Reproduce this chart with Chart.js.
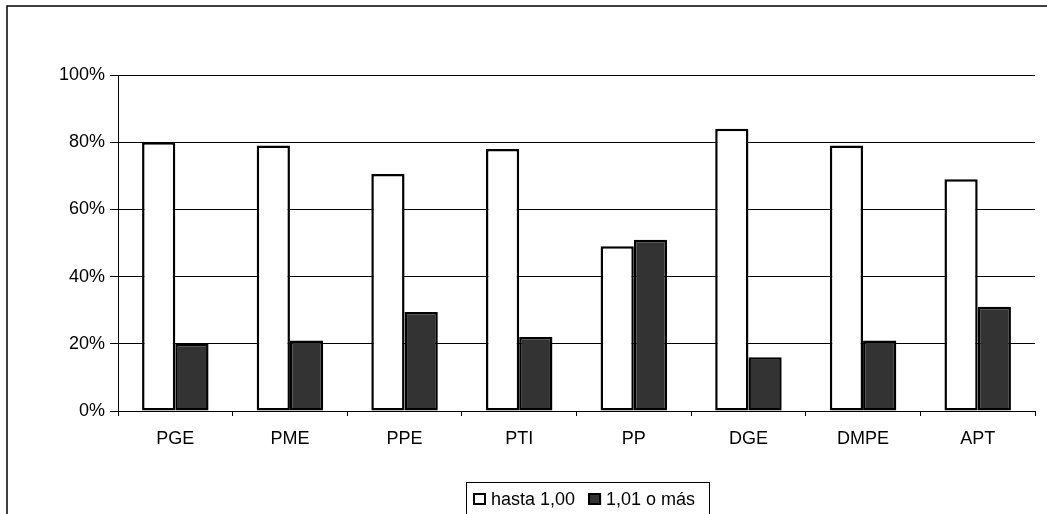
<!DOCTYPE html>
<html>
<head>
<meta charset="utf-8">
<script src="https://cdn.jsdelivr.net/npm/chart.js@4/dist/chart.umd.min.js"></script>
<style>
  html, body { margin: 0; padding: 0; background: #fff; }
  #wrap { position: relative; width: 1047px; height: 514px; }
</style>
</head>
<body>
<div id="wrap"><canvas id="barChart"></canvas></div>
<script>
const categories = ['PGE', 'PME', 'PPE', 'PTI', 'PP', 'DGE', 'DMPE', 'APT'];
const seriesNames = ['hasta 1,00', '1,01 o más'];
const upToOne = [80, 79, 70.5, 78, 49, 84, 79, 69];
const overOne = [20, 21, 29.5, 22, 51, 16, 21, 31];
const yTicks = [0, 20, 40, 60, 80, 100];

const FONT = 'Liberation Sans, Arial, sans-serif';

// outer frame + boxed legend, drawn the way the spreadsheet does it
const framePlugin = {
    id: 'framePlugin',
    beforeDraw(chart) {
        const ctx = chart.ctx;
        ctx.save();
        ctx.strokeStyle = '#000';
        ctx.lineWidth = 1.5;
        ctx.strokeRect(7, 6, 1200, 600);
        ctx.restore();
    },
    afterDraw(chart) {
        const ctx = chart.ctx;
        ctx.save();
        ctx.strokeStyle = '#000';
        ctx.lineWidth = 1;
        ctx.strokeRect(466.5, 482.5, 243, 60);
        ctx.font = '18px ' + FONT;
        ctx.textBaseline = 'alphabetic';
        let x = 473;
        chart.data.datasets.forEach(ds => {
            ctx.fillStyle = ds.backgroundColor;
            ctx.fillRect(x, 493, 13, 12);
            ctx.lineWidth = 2;
            ctx.strokeStyle = '#000';
            ctx.strokeRect(x + 1, 494, 11, 10);
            x += 18;
            ctx.fillStyle = '#000';
            ctx.fillText(ds.label, x, 505);
            x += ctx.measureText(ds.label).width + 13;
        });
        ctx.restore();
    }
};

const ctx = document.getElementById('barChart').getContext('2d');

new Chart(ctx, {
    type: 'bar',
    data: {
        labels: categories,
        datasets: [{
            label: seriesNames[0],
            data: upToOne,
            backgroundColor: '#ffffff',
            borderColor: '#000000',
            borderWidth: 2.5,
            borderSkipped: false,
            inflateAmount: 0
        }, {
            label: seriesNames[1],
            data: overOne,
            backgroundColor: '#333333',
            borderColor: '#000000',
            borderWidth: 2.5,
            borderSkipped: false,
            inflateAmount: 0
        }]
    },
    options: {
        responsive: true,
        maintainAspectRatio: false,
        animation: false,
        datasets: { bar: { categoryPercentage: 0.58, barPercentage: 1.0 } },
        layout: { padding: { top: 75, right: 12, left: 0, bottom: 63 } },
        plugins: {
            legend: { display: false },
            tooltip: { enabled: false }
        },
        scales: {
            x: {
                afterFit: scale => { scale.height = 40; },
                border: { color: '#000', width: 1 },
                grid: {
                    offset: true,
                    color: c => c.index === categories.length ? '#808080' : 'rgba(0,0,0,0)',
                    tickColor: '#000',
                    tickLength: 5
                },
                ticks: {
                    padding: 12,
                    color: '#000',
                    font: { family: FONT, size: 18 }
                }
            },
            y: {
                min: 0,
                max: 100,
                afterFit: scale => { scale.width = 118; },
                afterBuildTicks: scale => { scale.ticks = yTicks.map(v => ({ value: v })); },
                border: { color: '#000', width: 1 },
                grid: {
                    color: '#000',
                    tickColor: '#000',
                    tickLength: 8
                },
                ticks: {
                    padding: 5,
                    color: '#000',
                    font: { family: FONT, size: 18 },
                    callback: v => v + '%'
                }
            }
        }
    },
    plugins: [framePlugin]
});
</script>
</body>
</html>
